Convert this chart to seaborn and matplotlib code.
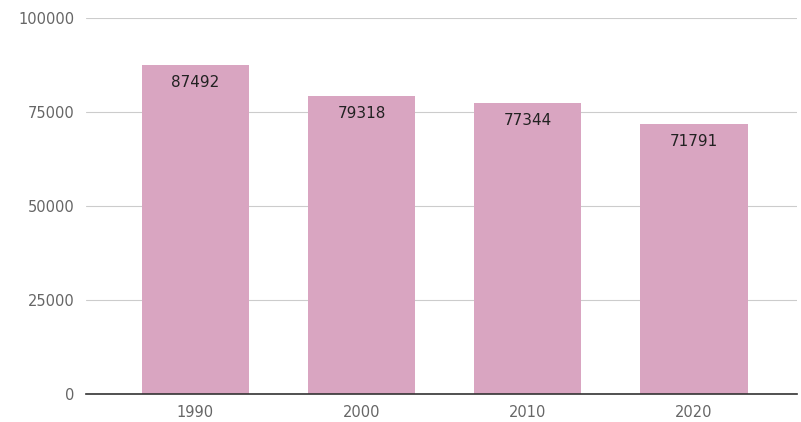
import pandas as pd
import seaborn as sns
from matplotlib import pyplot as plt

# Data
years = ["1990", "2000", "2010", "2020"]
values = [87492, 79318, 77344, 71791]

df = pd.DataFrame({"rok": years, "hodnota": values})

sns.set_style("white")
fig = plt.figure(figsize=(8.01, 4.22), dpi=100)
ax = fig.add_axes([0.107, 0.066, 0.888, 0.891])

sns.barplot(df, x="rok", y="hodnota", color="#d9a5c1", saturation=1, width=0.645,
            linewidth=0, ax=ax)

# Popisky hodnot uvnitř sloupců
for i, v in enumerate(values):
    ax.annotate(str(v), (i, v), xytext=(0, -12.5), textcoords="offset points",
                ha="center", va="center", fontsize=11, color="#222222")

ax.set_ylim(0, 100000)
ax.set_xlim(-0.66, 3.62)
ax.set_yticks([0, 25000, 50000, 75000, 100000])
ax.yaxis.grid(True, color="#cccccc", linewidth=0.8)
ax.set_axisbelow(True)
for s in ["top", "right", "left"]:
    ax.spines[s].set_visible(False)
ax.spines["bottom"].set_color("#333333")
ax.spines["bottom"].set_linewidth(1.2)
ax.tick_params(axis="both", length=0, labelsize=10.5, labelcolor="#666666")
ax.tick_params(axis="y", pad=8)
ax.tick_params(axis="x", pad=8)
ax.set_xlabel("")
ax.set_ylabel("")

fig.savefig("out.png", dpi=100)
